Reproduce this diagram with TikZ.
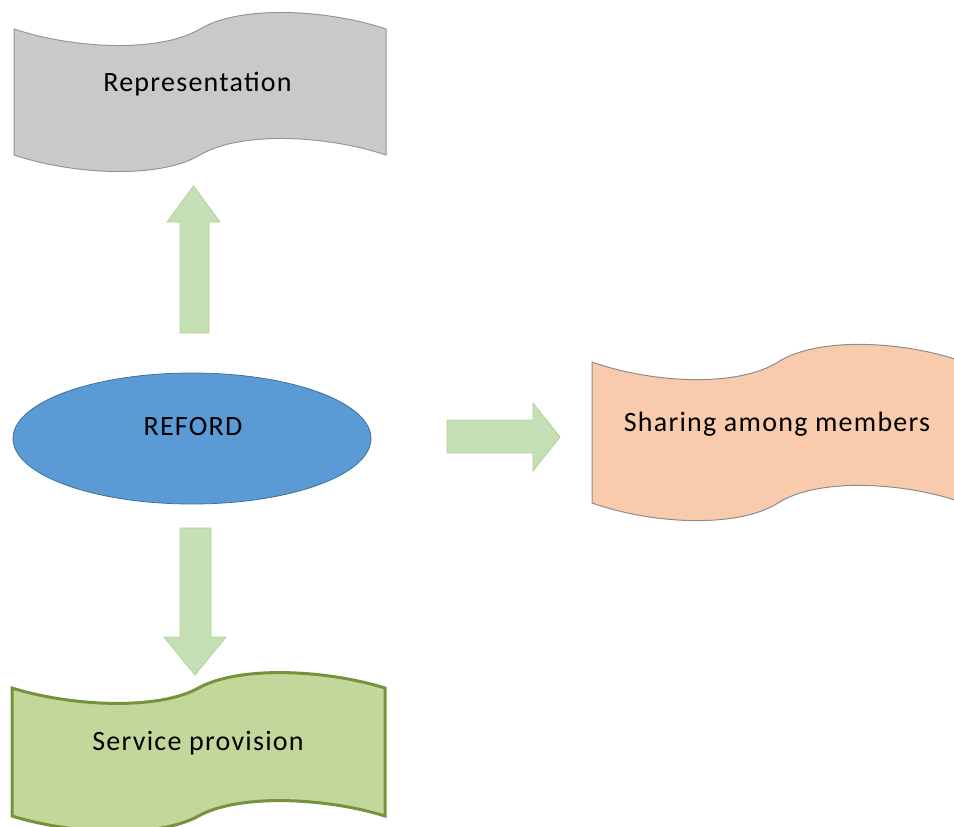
\documentclass[tikz,border=0pt]{standalone}
\usepackage{fontspec}
\setmainfont{Carlito}[LetterSpace=4.5]
\usetikzlibrary{shapes.geometric}
\definecolor{grayfill}{RGB}{201,201,201}
\definecolor{grayline}{RGB}{150,150,150}
\definecolor{orangefill}{RGB}{248,203,173}
\definecolor{orangeline}{RGB}{140,140,140}
\definecolor{greenfill}{RGB}{196,215,155}
\definecolor{greenline}{RGB}{118,146,60}
\definecolor{bluefill}{RGB}{91,155,213}
\definecolor{blueline}{RGB}{65,113,156}
\definecolor{arrowfill}{RGB}{197,224,180}
\definecolor{arrowline}{RGB}{175,212,150}
% wave: x y w h a  (a = depth of the wave)
\newcommand\wavepath[5]{%
  (#1,#2) .. controls ({#1+0.161*#3},{#2+1.33*#5}) and ({#1+0.392*#3},{#2+1.6*#5}) .. ({#1+0.5*#3},#2)
  .. controls ({#1+0.608*#3},{#2-1.6*#5}) and ({#1+0.839*#3},{#2-1.33*#5}) .. ({#1+#3},#2)
  -- ({#1+#3},{#2+#4})
  .. controls ({#1+0.839*#3},{#2+#4-1.33*#5}) and ({#1+0.608*#3},{#2+#4-1.6*#5}) .. ({#1+0.5*#3},{#2+#4})
  .. controls ({#1+0.392*#3},{#2+#4+1.6*#5}) and ({#1+0.161*#3},{#2+#4+1.33*#5}) .. (#1,{#2+#4}) -- cycle}
\begin{document}
\begin{tikzpicture}[x=1pt,y=-1pt,
  lbl/.style={font=\fontsize{28}{30}\selectfont, anchor=base, inner sep=0pt},
  blockarrow/.style={fill=arrowfill, draw=arrowline, line width=0.8pt, line join=miter},
  graywave/.style={fill=grayfill, draw=grayline, line width=1pt},
  orangewave/.style={fill=orangefill, draw=orangeline, line width=1pt},
  greenwave/.style={fill=greenfill, draw=greenline, line width=3pt}]
\useasboundingbox (0,0) rectangle (954,827);
\begin{scope}
\clip (0,0) rectangle (954,827);
% wave boxes
\draw[graywave] \wavepath{14}{29}{372}{126}{15};
\draw[orangewave] \wavepath{592}{362}{372}{141}{16};
\draw[greenwave] \wavepath{12}{688}{373}{128}{14};
% labels
\node[lbl] (rep) at (197.5,91) {Representation};
\node[lbl] (share) at (777,431) {Sharing among members};
\node[lbl] (serv) at (198,750) {Service provision};
% central ellipse
\node[ellipse, fill=bluefill, draw=blueline, line width=0.8pt, minimum width=358pt, minimum height=131pt, inner sep=0pt] (reford) at (192,438.5) {};
\node[lbl] (refordtxt) at (193,435) {REFORD};
% block arrows
\draw[blockarrow] (180,333) -- (180,222) -- (167,222) -- (193.5,186) -- (220,222) -- (209,222) -- (209,333) -- cycle;
\draw[blockarrow] (447,420) -- (533,420) -- (533,403) -- (560,437) -- (533,471) -- (533,453) -- (447,453) -- cycle;
\draw[blockarrow] (180,528) -- (211,528) -- (211,637) -- (226,637) -- (195,675) -- (164,637) -- (180,637) -- cycle;
\end{scope}
\end{tikzpicture}
\end{document}
